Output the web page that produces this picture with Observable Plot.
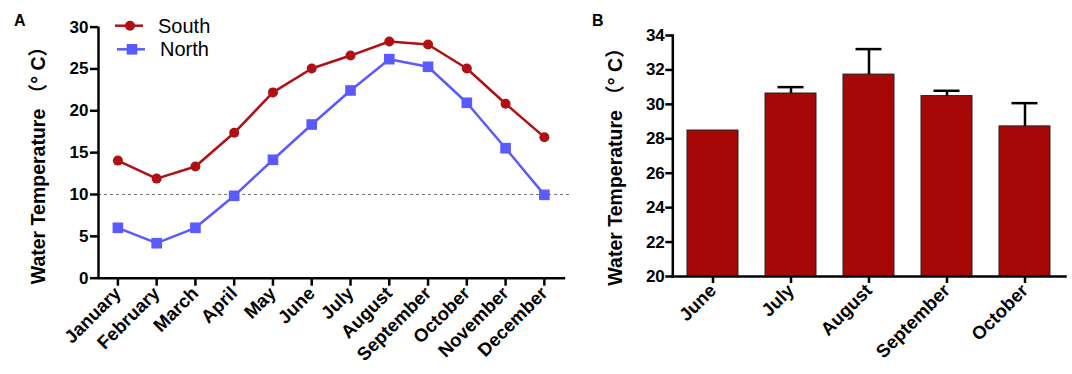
<!DOCTYPE html>
<html><head><meta charset="utf-8">
<script src="https://cdn.jsdelivr.net/npm/d3@7"></script>
<script src="https://cdn.jsdelivr.net/npm/@observablehq/plot@0.6"></script>
<style>
body{margin:0;background:#fff;}
#wrap{position:relative;width:1072px;height:374px;overflow:hidden;font-family:"Liberation Sans",Arial,sans-serif;}
#wrap > svg{position:absolute;top:0;}
</style></head><body><div id="wrap"></div>
<script>
// ---- Panel A data ----
const months = ["January","February","March","April","May","June","July","August","September","October","November","December"];
const south = [14.05, 11.9, 13.35, 17.37, 22.2, 25.05, 26.6, 28.28, 27.92, 25.05, 20.84, 16.85];
const north = [6.02, 4.18, 6.02, 9.84, 14.15, 18.36, 22.43, 26.17, 25.26, 20.96, 15.53, 9.96];
const seriesNames = ["South", "North"];
const yTicksA = [0, 5, 10, 15, 20, 25, 30];
const refLineA = 10;
// ---- Panel B data ----
const monthsB = ["June", "July", "August", "September", "October"];
const meanB = [28.48, 30.63, 31.73, 30.48, 28.72];
const errB = [0, 0.37, 1.48, 0.31, 1.35];
const yTicksB = [20, 22, 24, 26, 28, 30, 32, 34];
const yLabel = "Water Temperature （° C）";

const southColor = "#B01014", northColor = "#5A5AFF", barColor = "#A60707";
const font = "'Liberation Sans', Arial, sans-serif";
const titleFont = "'Liberation Sans', Arial, 'Noto Sans CJK SC', sans-serif";
const wrap = document.getElementById("wrap");

const dataA = [
  ...south.map((v, i) => ({series: "South", i, v})),
  ...north.map((v, i) => ({series: "North", i, v}))
];

const plotA = Plot.plot({
  width: 575, height: 374,
  marginLeft: 98, marginRight: 4, marginTop: 26.6, marginBottom: 96.3,
  x: {type: "linear", domain: [-0.5, 11.7]},
  y: {domain: [0, 30]},
  color: {domain: seriesNames, range: [southColor, northColor]},
  style: {fontFamily: font, background: "transparent", color: "black", overflow: "visible"},
  marks: [
    Plot.ruleY([refLineA], {x1: -0.5, x2: 11.7, stroke: "#777", strokeDasharray: "3,3", strokeWidth: 1}),
    Plot.ruleY([0], {x1: -0.5, x2: 11.55, strokeWidth: 2.5}),
    Plot.ruleX([-0.5], {y1: 0, y2: 30, strokeWidth: 2.5}),
    Plot.axisY({ticks: yTicksA, tickSize: 8, tickPadding: 2, fontSize: 17, fontWeight: "bold", strokeWidth: 2.5, label: null}),
    Plot.axisX({ticks: d3.range(months.length), tickFormat: i => months[i], tickRotate: -45, tickSize: 8, tickPadding: 4, fontSize: 18.5, fontWeight: "bold", strokeWidth: 2.5, label: null}),
    Plot.line(dataA, {x: "i", y: "v", z: "series", stroke: "series", strokeWidth: 2.5}),
    Plot.dot(dataA.filter(d => d.series === "South"), {x: "i", y: "v", r: 5, fill: "series", symbol: "circle"}),
    Plot.dot(dataA.filter(d => d.series === "North"), {x: "i", y: "v", r: 6, fill: "series", symbol: "square"}),
    Plot.text([yLabel], {frameAnchor: "left", textAnchor: "middle", rotate: -90, dx: -60, dy: 8, fontSize: 19.5, fontWeight: "bold", fontFamily: titleFont})
  ]
});
plotA.style.left = "0px";
wrap.appendChild(plotA);

const dataB = monthsB.map((m, i) => ({month: m, v: meanB[i], e: errB[i]}));
const withErr = dataB.filter(d => d.e > 0);
const plotB = Plot.plot({
  width: 497, height: 374,
  marginLeft: 97.3, marginRight: 7, marginTop: 35, marginBottom: 98,
  x: {domain: monthsB, paddingInner: 0.34, paddingOuter: 0.17},
  y: {domain: [yTicksB[0], yTicksB[yTicksB.length - 1]]},
  style: {fontFamily: font, background: "transparent", color: "black", overflow: "visible"},
  marks: [
    Plot.barY(dataB, {x: "month", y1: yTicksB[0], y2: "v", fill: barColor, stroke: "#222", strokeWidth: 1}),
    Plot.ruleX(withErr, {x: "month", y1: "v", y2: d => d.v + d.e, strokeWidth: 2.5}),
    Plot.tickY(withErr, {x: "month", y: d => d.v + d.e, strokeWidth: 2.5, inset: 12.5}),
    Plot.frame({anchor: "left", strokeWidth: 2.5}),
    Plot.frame({anchor: "bottom", strokeWidth: 2.5}),
    Plot.axisY({ticks: yTicksB, tickSize: 7, tickPadding: 1, fontSize: 17, fontWeight: "bold", strokeWidth: 2.5, label: null}),
    Plot.axisX({tickRotate: -45, tickSize: 7, tickPadding: 4, fontSize: 18.5, fontWeight: "bold", strokeWidth: 2.5, label: null}),
    Plot.text([yLabel], {frameAnchor: "left", textAnchor: "middle", rotate: -90, dx: -57.5, dy: 6, fontSize: 19.5, fontWeight: "bold", fontFamily: titleFont})
  ]
});
plotB.style.left = "575px";
wrap.appendChild(plotB);

// Overlay: panel labels and legend
const ov = d3.select(wrap).append("svg")
  .attr("width", 1072).attr("height", 374)
  .style("left", "0px").style("pointer-events", "none")
  .style("font-family", font);
ov.append("text").attr("x", 14).attr("y", 25.5).attr("font-size", 16).attr("font-weight", "bold").text("A");
ov.append("text").attr("x", 592).attr("y", 25.5).attr("font-size", 16).attr("font-weight", "bold").text("B");
const leg = [
  {name: seriesNames[0], color: southColor, x: 115, y: 25.7, sym: "circle"},
  {name: seriesNames[1], color: northColor, x: 117, y: 49.3, sym: "square"}
];
leg.forEach(l => {
  ov.append("line").attr("x1", l.x).attr("x2", l.x + 28).attr("y1", l.y).attr("y2", l.y)
    .attr("stroke", l.color).attr("stroke-width", 2.5);
  if (l.sym === "circle") ov.append("circle").attr("cx", l.x + 15).attr("cy", l.y).attr("r", 5).attr("fill", l.color);
  else ov.append("rect").attr("x", l.x + 15 - 5.3).attr("y", l.y - 5.3).attr("width", 10.6).attr("height", 10.6).attr("fill", l.color);
  ov.append("text").attr("x", l.x + 43).attr("y", l.y + 7).attr("font-size", 20).text(l.name);
});
</script>
</body></html>
